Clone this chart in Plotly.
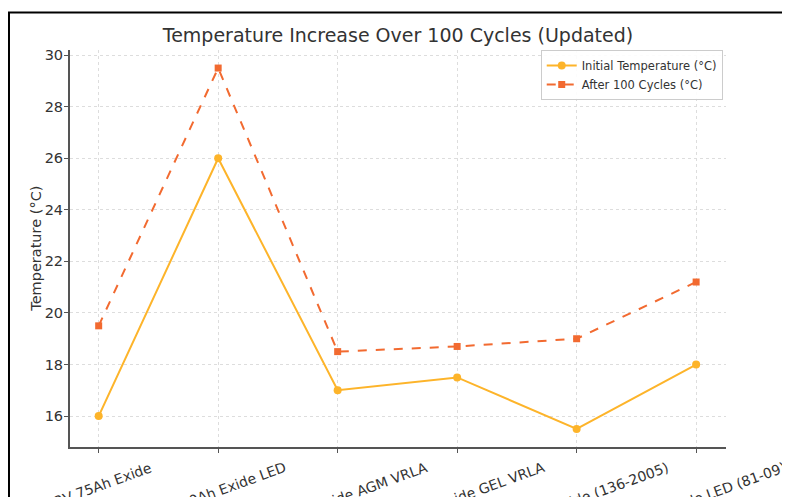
"""Temperature increase over 100 cycles - line chart."""
import plotly.graph_objects as go

BATTERIES = [
    "12V 75Ah Exide",
    "12V 40Ah Exide LED",
    "12V 65Ah Exide AGM VRLA",
    "12V 65Ah Exide GEL VRLA",
    "12V 75Ah Exide (136-2005)",
    "12V 7Ah Exide LED (81-09)",
]
INITIAL_TEMP = [16.0, 26.0, 17.0, 17.5, 15.5, 18.0]
AFTER_100_CYCLES = [19.5, 29.5, 18.5, 18.7, 19.0, 21.2]
Y_TICKS = [16, 18, 20, 22, 24, 26, 28, 30]

COLORS = {
    "initial": "#FDB42A",
    "after": "#F26A30",
    "axis": "#555555",
    "grid": "#DDDDDD",
    "text": "#333333",
}
FONT = "DejaVu Sans, Verdana, sans-serif"

fig = go.Figure()
fig.add_trace(go.Scatter(
    x=BATTERIES, y=INITIAL_TEMP, mode="lines+markers",
    name="Initial Temperature (°C)",
    line=dict(color=COLORS["initial"], width=2),
    marker=dict(symbol="circle", size=8, color=COLORS["initial"]),
))
fig.add_trace(go.Scatter(
    x=BATTERIES, y=AFTER_100_CYCLES, mode="lines+markers",
    name="After 100 Cycles (°C)",
    line=dict(color=COLORS["after"], width=2, dash="dash"),
    marker=dict(symbol="square", size=7, color=COLORS["after"]),
))

# rotated category labels centred under each tick (matplotlib-style)
for name in BATTERIES:
    fig.add_annotation(
        x=name, xref="x", y=0, yref="paper",
        text=name, showarrow=False, textangle=-20,
        xanchor="center", yanchor="top", yshift=-11, borderpad=0,
        font=dict(size=14, color=COLORS["text"]),
    )

# y-axis title
fig.add_annotation(
    x=-0.053, xref="paper", y=0.5, yref="paper",
    text="Temperature (°C)", showarrow=False, textangle=-90,
    xanchor="center", yanchor="middle",
    font=dict(size=14.5, color=COLORS["text"]),
)

# framed border of the original screenshot (left + top edges)
fig.add_shape(
    type="rect", xref="paper", yref="paper",
    x0=-0.093, x1=1.5, y0=-0.5, y1=1.0945,
    line=dict(color="black", width=2), fillcolor="rgba(0,0,0,0)",
    layer="below",
)

fig.update_layout(
    width=790, height=497,
    margin=dict(l=62, r=72, t=42, b=58),
    paper_bgcolor="white", plot_bgcolor="white",
    font=dict(family=FONT, color=COLORS["text"], size=13),
    title=dict(
        text="Temperature Increase Over 100 Cycles (Updated)",
        x=0.5, xanchor="center", y=0.944, yanchor="middle",
        xref="paper",
        font=dict(size=19, color=COLORS["text"]),
    ),
    legend=dict(
        x=0.995, y=1.0, xanchor="right", yanchor="top",
        bgcolor="rgba(255,255,255,0.9)", bordercolor="#CCCCCC", borderwidth=1,
        font=dict(size=11.5),
    ),
    showlegend=True,
)
fig.update_xaxes(
    range=[-0.24, 5.25], automargin=False, showticklabels=False,
    showline=True, linecolor=COLORS["axis"], linewidth=2,
    ticks="outside", ticklen=4, tickcolor=COLORS["axis"],
    showgrid=True, gridcolor=COLORS["grid"], griddash="dot", gridwidth=1,
    zeroline=False,
)
fig.update_yaxes(
    range=[14.8, 30.2], tickvals=Y_TICKS, automargin=False,
    tickfont=dict(size=14.5), ticklabelstandoff=-2,
    showline=True, linecolor=COLORS["axis"], linewidth=2,
    ticks="outside", ticklen=4, tickcolor=COLORS["axis"],
    showgrid=True, gridcolor=COLORS["grid"], griddash="dot", gridwidth=1,
    zeroline=False,
)

fig.write_html("out.html")
